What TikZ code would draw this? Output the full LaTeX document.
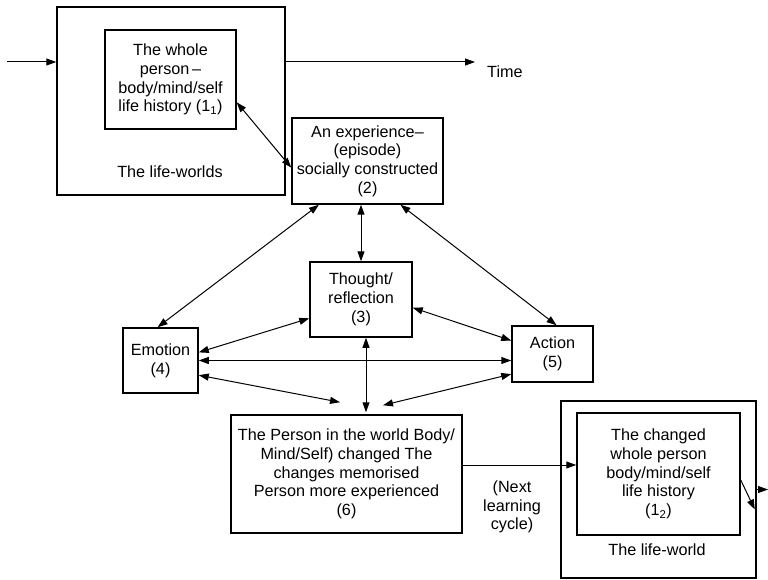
\documentclass[tikz,border=0pt]{standalone}
\usepackage{fontspec}
\setmainfont{Liberation Sans}
\usetikzlibrary{arrows.meta,calc}

\def \boxLine {1.5pt}
\def \arrowLine {1pt}

\tikzset{
  box/.style={draw, line width=\boxLine, align=center, inner sep=1pt},
  lbl/.style={align=center, inner sep=0pt},
  link/.style={line width=\arrowLine}
}

\begin{document}
\begin{tikzpicture}[x=1pt, y=-1pt, >={Triangle[length=10pt,width=7pt]},
    font=\fontsize{16.2}{18.7}\selectfont]
   \useasboundingbox (0,0) rectangle (768,580);

   \node[box, minimum width=228, minimum height=188] (world1) at (171,101) {};
   \node[box, minimum width=131, minimum height=99] (whole1) at (170.5,79.5)
      {The whole\\person\,--\\body/mind/self\\life history (1\textsubscript{1})};
   \node[lbl] (lw1) at (170,172) {The life-worlds};

   \node[box, minimum width=151, minimum height=86] (exp) at (367.5,161)
      {An experience--\\(episode)\\socially constructed\\(2)};
   \node[box, minimum width=102, minimum height=75] (thought) at (361,299.5)
      {Thought/\\reflection\\(3)};
   \node[box, minimum width=75, minimum height=65] (emo) at (160.5,360.5)
      {Emotion\\(4)};
   \node[box, minimum width=81, minimum height=56] (act) at (552.5,354)
      {Action\\(5)};
   \node[box, minimum width=231, minimum height=118] (person) at (346.5,474)
      {The Person in the world Body/\\Mind/Self) changed The\\changes memorised\\Person more experienced\\(6)};

   \node[box, minimum width=195, minimum height=177] (world2) at (658.5,489.5) {};
   \node[box, minimum width=163, minimum height=122] (whole2) at (658.5,474)
      {The changed\\whole person\\body/mind/self\\life history\\(1\textsubscript{2})};
   \node[lbl] (lw2) at (657,550) {The life-world};

   \node[lbl, anchor=west] (time) at (487,72) {Time};
   \node[lbl] (cycle) at (512,507) {(Next\\learning\\cycle)};

   \coordinate (start) at (7,62);
   \coordinate (tend) at (475,62);
   \coordinate (out) at (768,489.5);
   \coordinate (pout) at ($(person.east)+(0,-9)$);

   \draw[link, ->] (start) -- (start -| world1.west);
   \draw[link, ->] (start -| world1.east) -- (tend);
   \draw[link, <->] (whole1.-19.5) -- (exp.185);
   \draw[link, <->] (thought.north |- exp.south) -- (thought.north);
   \draw[link, <->] (exp.222) -- (emo.95);
   \draw[link, <->] (exp.-53) -- (act.82);
   \draw[link, <->] (thought.200) -- (emo.12);
   \draw[link, <->] (thought.-9) -- (act.162);
   \draw[link, <->] (emo.east) -- (emo.east -| act.west);
   \draw[link, <->] (emo.-21) -- ($(person.north)+(-6.5,-12)$);
   \draw[link, <->] (act.206) -- ($(person.north)+(36.5,-9)$);
   \draw[link, <->] ($(thought.south)+(5,0)$) -- ($(person.north)+(19.5,-2)$);
   \draw[link, ->] (pout) -- (pout -| whole2.west);
   \draw[link, ->] ($(whole2.east)+(0,6)$) -- ($(world2.east)+(-2,20)$);
   \draw[link, ->] (world2.east) -- (out);
\end{tikzpicture}
\end{document}
